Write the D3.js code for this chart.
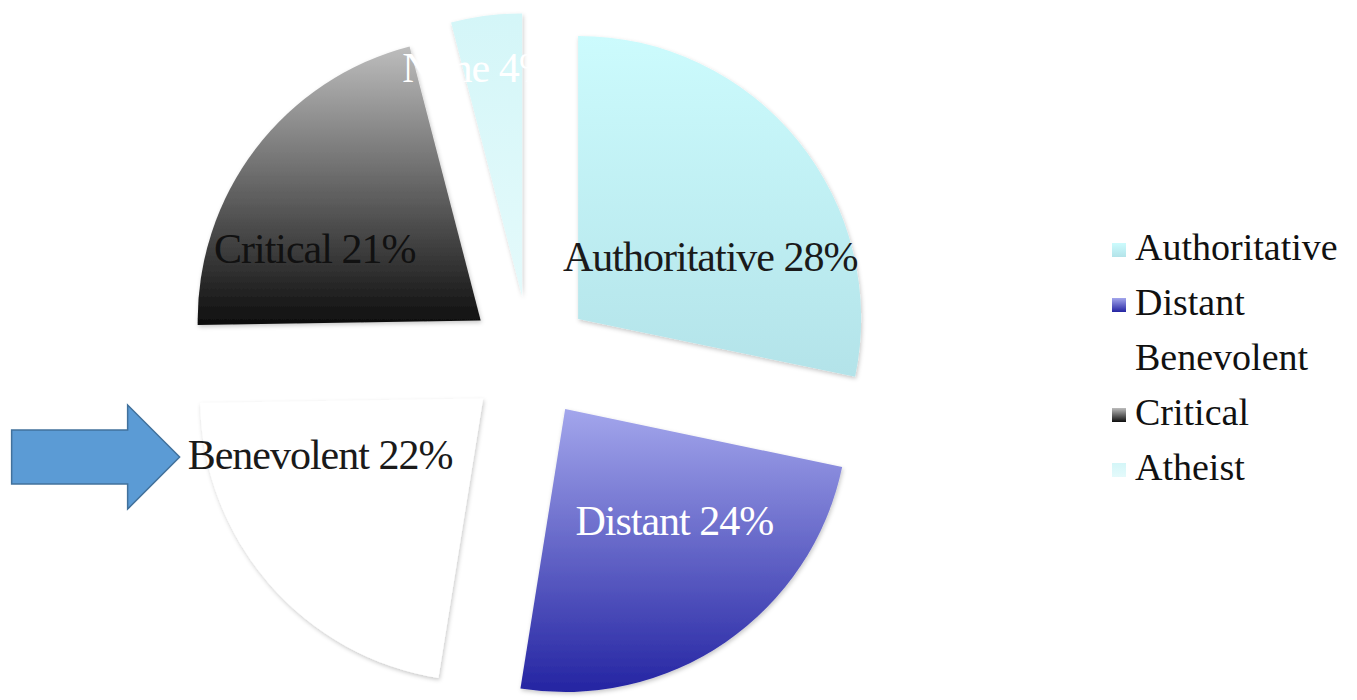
<!DOCTYPE html>
<meta charset="utf-8">
<head>
    <title>Image of God</title>
    <script src="https://cdn.jsdelivr.net/npm/d3@7"></script>
    <style>
        body { margin: 0; background: #fff; }
        .slice-label { font-family: "Liberation Serif", "Times New Roman", serif; font-size: 42px; }
        .legend { font-family: "Liberation Serif", "Times New Roman", serif; font-size: 38px; }
    </style>
</head>
<body>
<script>
    // data
    var categories = ["Authoritative", "Distant", "Benevolent", "Critical", "None"];
    var legendNames = ["Authoritative", "Distant", "Benevolent", "Critical", "Atheist"];
    var shares = [28, 24, 22, 21, 4];

    // styling per slice (gradient top -> bottom, label colour)
    var topColors = ["#ccfbfd", "#a3a6ec", "#ffffff", "#bdbdbd", "#d4f6f8"];
    var bottomColors = ["#b3e3e9", "#2424a2", "#ffffff", "#0e0e0e", "#e4fafb"];
    var labelColors = ["#1a1a1a", "#ffffff", "#1a1a1a", "#111111", "#ffffff"];
    // hand placed label nudges, like moved labels in the original
    var nudgeX = [-20, -2, -15, -10, -15];
    var nudgeY = [4, 25, -13, -9, 4];

    var width = 1357, height = 700;
    var cx = 530, cy = 358;
    var radius = 283, explode = 62;

    var svg = d3.select("body").append("svg")
        .attr("width", width)
        .attr("height", height);

    var defs = svg.append("defs");
    categories.forEach(function(c, i) {
        var g = defs.append("linearGradient")
            .attr("id", "grad" + i)
            .attr("x1", 0).attr("y1", 0).attr("x2", 0).attr("y2", 1);
        g.append("stop").attr("offset", "0%").attr("stop-color", topColors[i]);
        g.append("stop").attr("offset", "100%").attr("stop-color", bottomColors[i]);
    });
    var shadow = defs.append("filter").attr("id", "shadow")
        .attr("x", "-10%").attr("y", "-10%").attr("width", "120%").attr("height", "120%");
    shadow.append("feDropShadow")
        .attr("dx", 1).attr("dy", 2).attr("stdDeviation", 2)
        .attr("flood-color", "#000").attr("flood-opacity", 0.22);

    var pie = d3.pie().sort(null).value(function(d) { return d; });
    var arcs = pie(shares);
    var arc = d3.arc().innerRadius(0).outerRadius(radius);

    function mid(a) { return (a.startAngle + a.endAngle) / 2; }

    var chart = svg.append("g").attr("transform", "translate(" + cx + "," + cy + ")");

    var slices = chart.selectAll("g.slice")
        .data(arcs)
        .enter().append("g")
        .attr("class", "slice")
        .attr("transform", function(d) {
            var m = mid(d);
            return "translate(" + (explode * Math.sin(m)) + "," + (-explode * Math.cos(m)) + ")";
        });

    slices.append("path")
        .attr("d", arc)
        .attr("fill", function(d, i) { return "url(#grad" + i + ")"; })
        .attr("filter", "url(#shadow)");

    // labels: wide text pushed toward the horizontal, small slices go further out
    var labelRx = 196, labelRy = 105, smallR = 235;
    var labels = slices.append("text")
        .attr("class", "slice-label")
        .attr("text-anchor", "middle")
        .attr("dy", "0.35em")
        .attr("x", function(d, i) {
            var m = mid(d);
            return (d.value < 5 ? smallR : labelRx) * Math.sin(m) + nudgeX[i];
        })
        .attr("y", function(d, i) {
            var m = mid(d);
            return -(d.value < 5 ? smallR : labelRy) * Math.cos(m) + nudgeY[i];
        })
        .style("fill", function(d, i) { return labelColors[i]; })
        .style("letter-spacing", "-1px")
        .text(function(d, i) { return categories[i] + " " + d.value + "%"; });

    // legend
    var legend = svg.append("g")
        .attr("class", "legend")
        .attr("transform", "translate(1112,260)");
    var rowH = 55;
    var rows = legend.selectAll("g")
        .data(legendNames)
        .enter().append("g")
        .attr("transform", function(d, i) { return "translate(0," + (i * rowH) + ")"; });
    rows.append("rect")
        .attr("x", 0).attr("y", -17)
        .attr("width", 14).attr("height", 14)
        .attr("fill", function(d, i) { return "url(#grad" + i + ")"; });
    rows.append("text")
        .attr("x", 23)
        .attr("y", 0)
        .style("fill", "#111")
        .text(function(d) { return d; });

    // block arrow pointing at the Benevolent label
    var benev = labels.filter(function(d, i) { return categories[i] === "Benevolent"; }).node();
    var bb = benev.getBBox();
    var g = d3.select(benev.parentNode);
    var tipX = bb.x - 8, tipY = bb.y + bb.height / 2 + 2;
    var len = 168, shaftH = 54, headH = 104, headL = 52;
    var p = d3.path();
    p.moveTo(tipX, tipY);
    p.lineTo(tipX - headL, tipY - headH / 2);
    p.lineTo(tipX - headL, tipY - shaftH / 2);
    p.lineTo(tipX - len, tipY - shaftH / 2);
    p.lineTo(tipX - len, tipY + shaftH / 2);
    p.lineTo(tipX - headL, tipY + shaftH / 2);
    p.lineTo(tipX - headL, tipY + headH / 2);
    p.closePath();
    g.append("path")
        .attr("d", p.toString())
        .attr("fill", "#5b9bd5")
        .attr("stroke", "#41719c")
        .attr("stroke-width", 1.5);
</script>
</body>
</html>
